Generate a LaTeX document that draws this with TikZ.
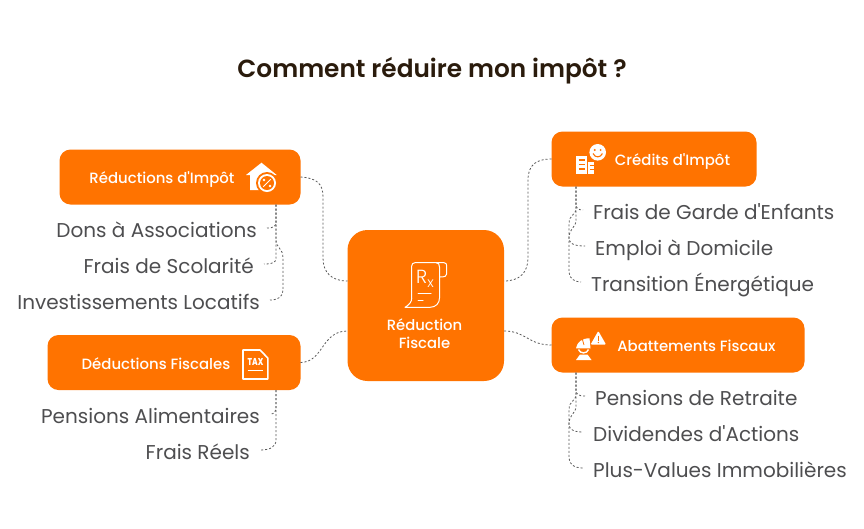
\documentclass[tikz,border=0pt]{standalone}
\usepackage{fontspec}
\setmainfont{Poppins}
\newfontfamily\preg{Poppins}
\newfontfamily\pmed{Poppins Medium}
\newfontfamily\psemi{Poppins SemiBold}
\newfontfamily\plight{Poppins Light}
\definecolor{brand}{HTML}{FF7300}
\definecolor{inktext}{HTML}{4E4E50}
\definecolor{titleink}{HTML}{2A1B0C}
\definecolor{linkgray}{HTML}{5A5A5A}
\tikzset{
  x=1pt,y=-1pt,
  box/.style={fill=brand,draw=none,rounded corners=11pt,inner sep=0pt,outer sep=0pt},
  headlabel/.style={text=white,font=\pmed\fontsize{14.9}{17}\selectfont,inner sep=0pt,anchor=base},
  itemL/.style={text=inktext,font=\preg\fontsize{20}{22}\selectfont,inner xsep=10pt,inner ysep=0pt,text height=18pt,text depth=0pt,anchor=east},
  itemR/.style={text=inktext,font=\preg\fontsize{20}{22}\selectfont,inner xsep=10pt,inner ysep=0pt,text height=18pt,text depth=0pt,anchor=west},
  conn/.style={draw=linkgray,line width=0.8pt,dash pattern=on 2pt off 2pt,line cap=butt},
  iconline/.style={draw=white,line width=1pt,line cap=round,line join=round},
}
\begin{document}
\begin{tikzpicture}
\useasboundingbox (0,0) rectangle (864,528);
\fill[white] (0,0) rectangle (864,528);
\node[text=titleink,font=\psemi\fontsize{24.8}{30}\selectfont,inner sep=0pt,anchor=base] (title) at (432,77.3) {Comment réduire mon impôt ?};

% boxes
\node[box,rounded corners=20pt,minimum width=156.5pt,minimum height=151pt] (center) at (425.75,305.5) {};
\node[box,minimum width=241pt,minimum height=55pt] (redu) at (180,177) {};
\node[box,minimum width=253pt,minimum height=55pt] (dedu) at (174,362.5) {};
\node[box,minimum width=205pt,minimum height=55pt] (cred) at (654,159) {};
\node[box,minimum width=253pt,minimum height=55pt] (abat) at (678,345) {};

\node[headlabel] (credlabel) at (672.5,165) {Crédits d'Impôt};
\node[headlabel] (redulabel) at (162,183) {Réductions d'Impôt};
\node[headlabel] (dedulabel) at (156,369) {Déductions Fiscales};
\node[headlabel] (abatlabel) at (696.5,351.3) {Abattements Fiscaux};
\node[headlabel,font=\pmed\fontsize{14.8}{17}\selectfont] (cl1) at (424.5,330) {Réduction};
\node[headlabel,font=\pmed\fontsize{14.8}{17}\selectfont] (cl2) at (424.5,348) {Fiscale};

% items
\node[itemL] (dons) at (267,228) {Dons à Associations};
\node[itemL] (scol) at (264,264) {Frais de Scolarité};
\node[itemL] (inve) at (270,300) {Investissements Locatifs};
\node[itemL] (pens) at (270,414) {Pensions Alimentaires};
\node[itemL] (reel) at (260,450) {Frais Réels};
\node[itemR] (gard) at (583,210) {Frais de Garde d'Enfants};
\node[itemR] (empl) at (585,246) {Emploi à Domicile};
\node[itemR] (tran) at (581,282) {Transition Énergétique};
\node[itemR] (retr) at (585,396) {Pensions de Retraite};
\node[itemR] (divi) at (583,432) {Dividendes d'Actions};
\node[itemR] (plus) at (583,468) {Plus-Values Immobilières};

% trunk start points
\coordinate (rs) at (276,204.5);
\coordinate (ds) at (276,390);
\coordinate (cs) at (576,186.5);
\coordinate (as) at (576,372.5);
\coordinate (cw) at (347.5,281);
\coordinate (cw2) at (347.5,331);
\coordinate (ce) at (504,281);
\coordinate (ce2) at (504,331);

% main links
\draw[conn] (redu.east) .. controls (316,178) and (323,183) .. (323,197) -- (323,258) .. controls (323,272) and (331,281) .. (cw);
\draw[conn] (dedu.east) .. controls (324,362) and (321,331) .. (cw2);
\draw[conn] (cred.west) .. controls (536,159) and (528,165) .. (528,180) -- (528,258) .. controls (528,272) and (520,281) .. (ce);
\draw[conn] (abat.west) .. controls (528,345) and (526,331) .. (ce2);

% child links, left
\draw[conn] (rs) -- (276,222) .. controls (276,226) and (274,228) .. (dons.east);
\draw[conn] (rs) -- (276,258) .. controls (276,262) and (274,264) .. (scol.east);
\draw[conn] (rs) -- (276,240) .. controls (276,248) and (283,248) .. (283,258) -- (283,290) .. controls (283,296) and (279,300) .. (inve.east);
\draw[conn] (ds) -- (276,409) .. controls (276,412) and (274,414) .. (pens.east);
\draw[conn] (ds) -- (276,440) .. controls (276,447) and (270,450) .. (reel.east);
% child links, right
\draw[conn] (cs) -- (576,204) .. controls (576,208) and (578,210) .. (gard.west);
\draw[conn] (cs) -- (576,208) .. controls (576,216) and (569,214) .. (569,224) -- (569,238) .. controls (569,243) and (573,246) .. (empl.west);
\draw[conn] (cs) -- (576,220) .. controls (576,228) and (569,228) .. (569,238) -- (569,272) .. controls (569,278) and (574,282) .. (tran.west);
\draw[conn] (as) -- (576,390) .. controls (576,394) and (578,396) .. (retr.west);
\draw[conn] (as) -- (576,394) .. controls (576,402) and (569,400) .. (569,410) -- (569,424) .. controls (569,429) and (573,432) .. (divi.west);
\draw[conn] (as) -- (576,406) .. controls (576,414) and (569,414) .. (569,424) -- (569,458) .. controls (569,464) and (574,468) .. (plus.west);

% Rx scroll icon
\draw[iconline] (411.7,298.3) -- (411.7,266) .. controls (411.7,264) and (413,262.7) .. (415,262.7) -- (444,262.7) .. controls (446,262.7) and (446.7,264) .. (446.7,266) -- (446.7,274) .. controls (446.7,276) and (445,277) .. (440,277);
\draw[iconline] (436,262.7) .. controls (438.5,262.7) and (439.5,264) .. (439.5,267) -- (439.5,298) .. controls (439.5,303) and (436,307.3) .. (430,307.3) -- (405,307.3) .. controls (409,305) and (411.7,302) .. (411.7,298.3);
\draw[iconline] (418,293) -- (431,293);
\draw[iconline] (418,300) -- (423,300);
\node[text=white,font=\plight\fontsize{19}{19}\selectfont,inner sep=0pt,anchor=base west] (rx) at (416,283) {R\raisebox{-4pt}{\fontsize{14}{14}\selectfont x}};

% house icon
\fill[white] (261.5,162.7) -- (276.7,175) -- (271,175) -- (271,190) -- (250,190) -- (250,175) -- (246,175) -- cycle;
\fill[brand] (267,183) circle (11);
\fill[white] (267,183) circle (9);
\fill[brand] (267,183) circle (7);
\draw[white,line width=1pt] (263.3,186.7) -- (270.7,179.3);
\fill[white] (264,180) circle (1.4);
\fill[white] (270,186) circle (1.4);

% tax icon
\draw[white,line width=1.6pt,line join=round] (243,350) -- (260,350) -- (267.8,358) -- (267.8,379) -- (243,379) -- cycle;
\node[text=white,font=\pmed\bfseries\fontsize{10}{10}\selectfont,inner sep=0pt,xscale=0.75] (taxt) at (255.5,362.3) {TAX};
\draw[white,line width=1pt] (247.7,370.7) -- (263.3,370.7);

% credit icon
\fill[white] (597.7,152.3) circle (8.3);
\fill[brand] (594.8,150) circle (1.1);
\fill[brand] (600.6,150) circle (1.1);
\draw[brand,line width=1.1pt] (593,153.5) .. controls (595,158) and (600.4,158) .. (602.4,153.5);
\fill[white] (576,155.7) rectangle (587,174.3);
\fill[white] (588.3,161.7) rectangle (594,174.3);
\foreach \yy in {160,164.5,169}{
  \draw[brand,line width=1.2pt] (578.5,\yy) -- (584.5,\yy);
}
\foreach \yy in {165.5,169.5}{
  \draw[brand,line width=1.2pt] (590,\yy) -- (594,\yy);
}

% abatement icon
\fill[white,rounded corners=1pt] (598.3,331) -- (606,344.5) -- (590.6,344.5) -- cycle;
\draw[brand,line width=1.4pt] (598.3,335.5) -- (598.3,340.5);
\fill[brand] (598.3,342.5) circle (0.8);
\fill[white] (576,348.3) .. controls (577,342) and (582,338.3) .. (589.5,338.3) -- (590.5,348.3) -- cycle;
\draw[brand,line width=0.8pt] (582,338) -- (584,345);
\draw[white,line width=1.4pt] (578.5,349.5) .. controls (580,354) and (587,354) .. (588.5,349.5);
\fill[white] (576,360) -- (580,354.5) -- (587.5,354.5) -- (591.5,360) -- cycle;
\end{tikzpicture}
\end{document}
